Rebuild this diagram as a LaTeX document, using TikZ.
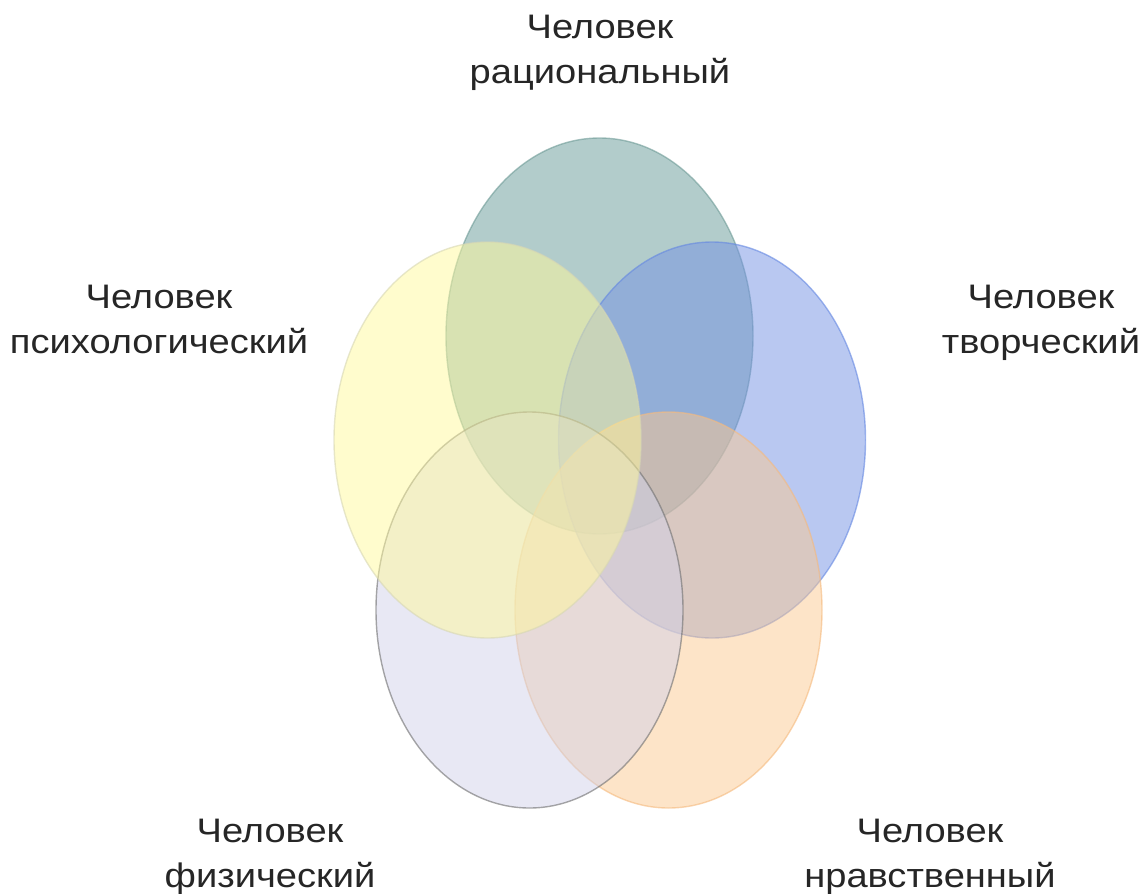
\documentclass[tikz,border=0pt]{standalone}
\usepackage{fontspec}
\setmainfont{Liberation Sans}
\newfontfamily\lblfont[FakeStretch=1.12]{Liberation Sans}
\usetikzlibrary{shapes.geometric}
\definecolor{tealF}{RGB}{101,153,151}
\definecolor{tealD}{RGB}{110,155,150}
\definecolor{yelF}{RGB}{255,249,155}
\definecolor{yelD}{RGB}{215,215,180}
\definecolor{bluF}{RGB}{115,145,228}
\definecolor{bluD}{RGB}{100,135,225}
\definecolor{lavF}{RGB}{209,209,233}
\definecolor{lavD}{RGB}{110,110,110}
\definecolor{oraF}{RGB}{251,201,145}
\definecolor{oraD}{RGB}{245,185,125}
\tikzset{
  venn/.style={ellipse, inner sep=0pt, minimum width=307pt, minimum height=396pt,
    line width=1.4pt, fill opacity=0.5, draw opacity=0.6},
  lbl/.style={anchor=north, inner sep=0pt, align=center, text=black!85,
    font=\lblfont\fontsize{34}{45}\selectfont}
}
\begin{document}
\begin{tikzpicture}[x=1pt, y=-1pt]
\useasboundingbox (0,0) rectangle (1141,894);
\node[venn, fill=tealF, draw=tealD] (rat) at (599.5,336) {};
\node[venn, fill=bluF, draw=bluD] (tvo) at (712,440) {};
\node[venn, fill=oraF, draw=oraD] (nra) at (668.5,610) {};
\node[venn, fill=lavF, draw=lavD] (fiz) at (529.5,610) {};
\node[venn, fill=yelF, draw=yelD] (psy) at (487.5,440) {};
\node[lbl] (trat) at (600,15) {Человек\\рациональный};
\node[lbl] (tpsy) at (159,285) {Человек\\психологический};
\node[lbl] (ttvo) at (1041,285) {Человек\\творческий};
\node[lbl] (tfiz) at (270,819) {Человек\\физический};
\node[lbl] (tnra) at (930,819) {Человек\\нравственный};
\end{tikzpicture}
\end{document}
